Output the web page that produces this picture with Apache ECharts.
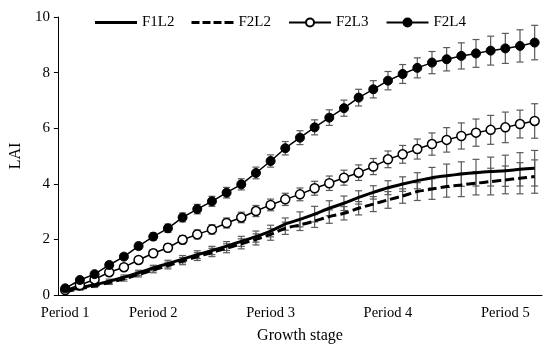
<!DOCTYPE html>
<html>
<head>
<meta charset="utf-8">
<script src="https://cdn.jsdelivr.net/npm/echarts@6/dist/echarts.min.js"></script>
<style>
html,body{margin:0;padding:0;background:#fff;}
#chart{width:550px;height:349px;}
</style>
</head>
<body>
<div id="chart"></div>
<script>
// ---- Data ----
const categories = ['1','2','3','4','5','6','7','8','9','10','11','12','13','14','15','16','17','18','19','20','21','22','23','24','25','26','27','28','29','30','31','32','33'];
const periodLabels = {0:'Period 1', 6:'Period 2', 14:'Period 3', 22:'Period 4', 30:'Period 5'};
const yTicks = [0, 2, 4, 6, 8, 10];

const F1L2 = [0.15,0.26,0.37,0.50,0.64,0.80,0.97,1.13,1.29,1.45,1.60,1.76,1.93,2.10,2.30,2.55,2.72,2.91,3.12,3.30,3.51,3.69,3.86,3.99,4.11,4.22,4.29,4.35,4.40,4.44,4.47,4.52,4.56];
const F1L2err = [0.04,0.05,0.06,0.07,0.08,0.09,0.10,0.12,0.13,0.14,0.15,0.16,0.18,0.20,0.21,0.22,0.27,0.28,0.27,0.26,0.24,0.24,0.25,0.26,0.29,0.37,0.42,0.44,0.48,0.52,0.56,0.60,0.64];

const F2L2 = [0.12,0.22,0.33,0.45,0.58,0.74,0.90,1.06,1.22,1.38,1.53,1.68,1.84,2.00,2.18,2.40,2.52,2.66,2.82,2.94,3.12,3.27,3.42,3.56,3.72,3.81,3.90,3.96,4.02,4.08,4.14,4.20,4.26];
const F2L2err = [0.04,0.05,0.06,0.07,0.08,0.09,0.10,0.12,0.13,0.14,0.15,0.16,0.18,0.20,0.21,0.22,0.20,0.23,0.24,0.24,0.24,0.27,0.30,0.26,0.32,0.37,0.38,0.42,0.42,0.48,0.50,0.56,0.60];

const F2L3 = [0.18,0.36,0.56,0.82,1.00,1.26,1.50,1.70,1.99,2.18,2.36,2.59,2.79,3.02,3.24,3.44,3.62,3.84,4.02,4.22,4.40,4.62,4.88,5.06,5.25,5.43,5.58,5.72,5.84,5.94,6.03,6.15,6.26];
const F2L3err = [0.04,0.06,0.07,0.09,0.10,0.11,0.13,0.14,0.15,0.16,0.17,0.18,0.19,0.20,0.21,0.22,0.23,0.25,0.26,0.27,0.28,0.29,0.30,0.32,0.36,0.40,0.44,0.47,0.49,0.52,0.55,0.50,0.62];

const F2L4 = [0.24,0.54,0.75,1.08,1.38,1.76,2.10,2.40,2.79,3.09,3.37,3.68,3.98,4.39,4.82,5.28,5.66,6.03,6.38,6.72,7.10,7.40,7.71,7.95,8.17,8.36,8.48,8.60,8.69,8.79,8.87,8.96,9.08];
const F2L4err = [0.05,0.06,0.08,0.10,0.10,0.12,0.13,0.15,0.16,0.17,0.18,0.19,0.20,0.21,0.22,0.24,0.25,0.27,0.28,0.29,0.30,0.31,0.33,0.34,0.36,0.40,0.42,0.47,0.50,0.52,0.54,0.58,0.62];

// ---- Chart ----
const FONT = 'Liberation Serif';
function errData(vals, errs){
  return vals.map((v,i)=>[i, v - errs[i], v + errs[i]]);
}
function renderErr(params, api){
  const xi = api.value(0);
  const lo = api.coord([xi, api.value(1)]);
  const hi = api.coord([xi, api.value(2)]);
  const hw = 3.5;
  const st = {stroke:'#5a5a5a', lineWidth:1.2};
  return {type:'group', children:[
    {type:'line', shape:{x1:lo[0], y1:lo[1], x2:hi[0], y2:hi[1]}, style:st},
    {type:'line', shape:{x1:hi[0]-hw, y1:hi[1], x2:hi[0]+hw, y2:hi[1]}, style:st},
    {type:'line', shape:{x1:lo[0]-hw, y1:lo[1], x2:lo[0]+hw, y2:lo[1]}, style:st}
  ]};
}
function errSeries(vals, errs){
  return {type:'custom', renderItem:renderErr, data:errData(vals, errs),
    encode:{x:0, y:[1,2]}, z:1, silent:true, animation:false};
}

const solidIcon = 'path://M0,0M42,10M0,3.5h42v3h-42z';
const dashIcon = 'path://M0,0M42,10M0,3.5h8v3h-8zM11,3.5h8v3h-8zM22,3.5h8v3h-8zM33,3.5h9v3h-9z';

const chart = echarts.init(document.getElementById('chart'), null, {renderer:'canvas'});
chart.setOption({
  animation:false,
  backgroundColor:'#fff',
  textStyle:{fontFamily:FONT, color:'#000'},
  grid:{left:53, right:8, top:17, bottom:54, containLabel:false},
  legend:{
    data:[
      {name:'F1L2', icon:solidIcon, itemStyle:{color:'#000', borderWidth:0}},
      {name:'F2L2', icon:dashIcon, itemStyle:{color:'#000', borderWidth:0}},
      'F2L3','F2L4'],
    left:90, top:10, itemWidth:42, itemHeight:10, itemGap:17,
    textStyle:{fontFamily:FONT, fontSize:15, color:'#000'}
  },
  xAxis:{
    type:'category', data:categories, boundaryGap:true,
    name:'Growth stage', nameLocation:'middle', nameGap:33,
    nameTextStyle:{fontFamily:FONT, fontSize:16, color:'#000'},
    axisLine:{show:true, lineStyle:{color:'#000', width:1}},
    axisTick:{show:false},
    axisLabel:{interval:0, margin:11, fontFamily:FONT, fontSize:14.5, color:'#000',
      formatter:function(v, i){ return periodLabels[i] || ''; }},
    splitLine:{show:false}
  },
  yAxis:{
    type:'value', min:0, max:10, interval:2,
    name:'LAI', nameLocation:'middle', nameGap:30,
    nameTextStyle:{fontFamily:FONT, fontSize:16, color:'#000'},
    axisLine:{show:true, lineStyle:{color:'#000', width:1}},
    axisTick:{show:true, inside:false, length:4, lineStyle:{color:'#000'}},
    axisLabel:{margin:8, fontFamily:FONT, fontSize:15, color:'#000',
      formatter:function(v){ return yTicks.indexOf(v) >= 0 ? String(v) : ''; }},
    splitLine:{show:false}
  },
  series:[
    errSeries(F1L2, F1L2err),
    errSeries(F2L2, F2L2err),
    errSeries(F2L3, F2L3err),
    errSeries(F2L4, F2L4err),
    {name:'F1L2', type:'line', data:F1L2, smooth:0.3, showSymbol:false, symbol:'none', z:3,
      lineStyle:{color:'#000', width:3}, itemStyle:{color:'#000'}},
    {name:'F2L2', type:'line', data:F2L2, smooth:0.3, showSymbol:false, symbol:'none', z:3,
      lineStyle:{color:'#000', width:3, type:[9,4]}, itemStyle:{color:'#000'}},
    {name:'F2L3', type:'line', data:F2L3, symbol:'circle', symbolSize:9, z:4,
      lineStyle:{color:'#000', width:1.5},
      itemStyle:{color:'#fff', borderColor:'#000', borderWidth:1.5}},
    {name:'F2L4', type:'line', data:F2L4, symbol:'circle', symbolSize:9, z:4,
      lineStyle:{color:'#000', width:1.5},
      itemStyle:{color:'#000', borderColor:'#000', borderWidth:1}}
  ]
});
</script>
</body>
</html>
